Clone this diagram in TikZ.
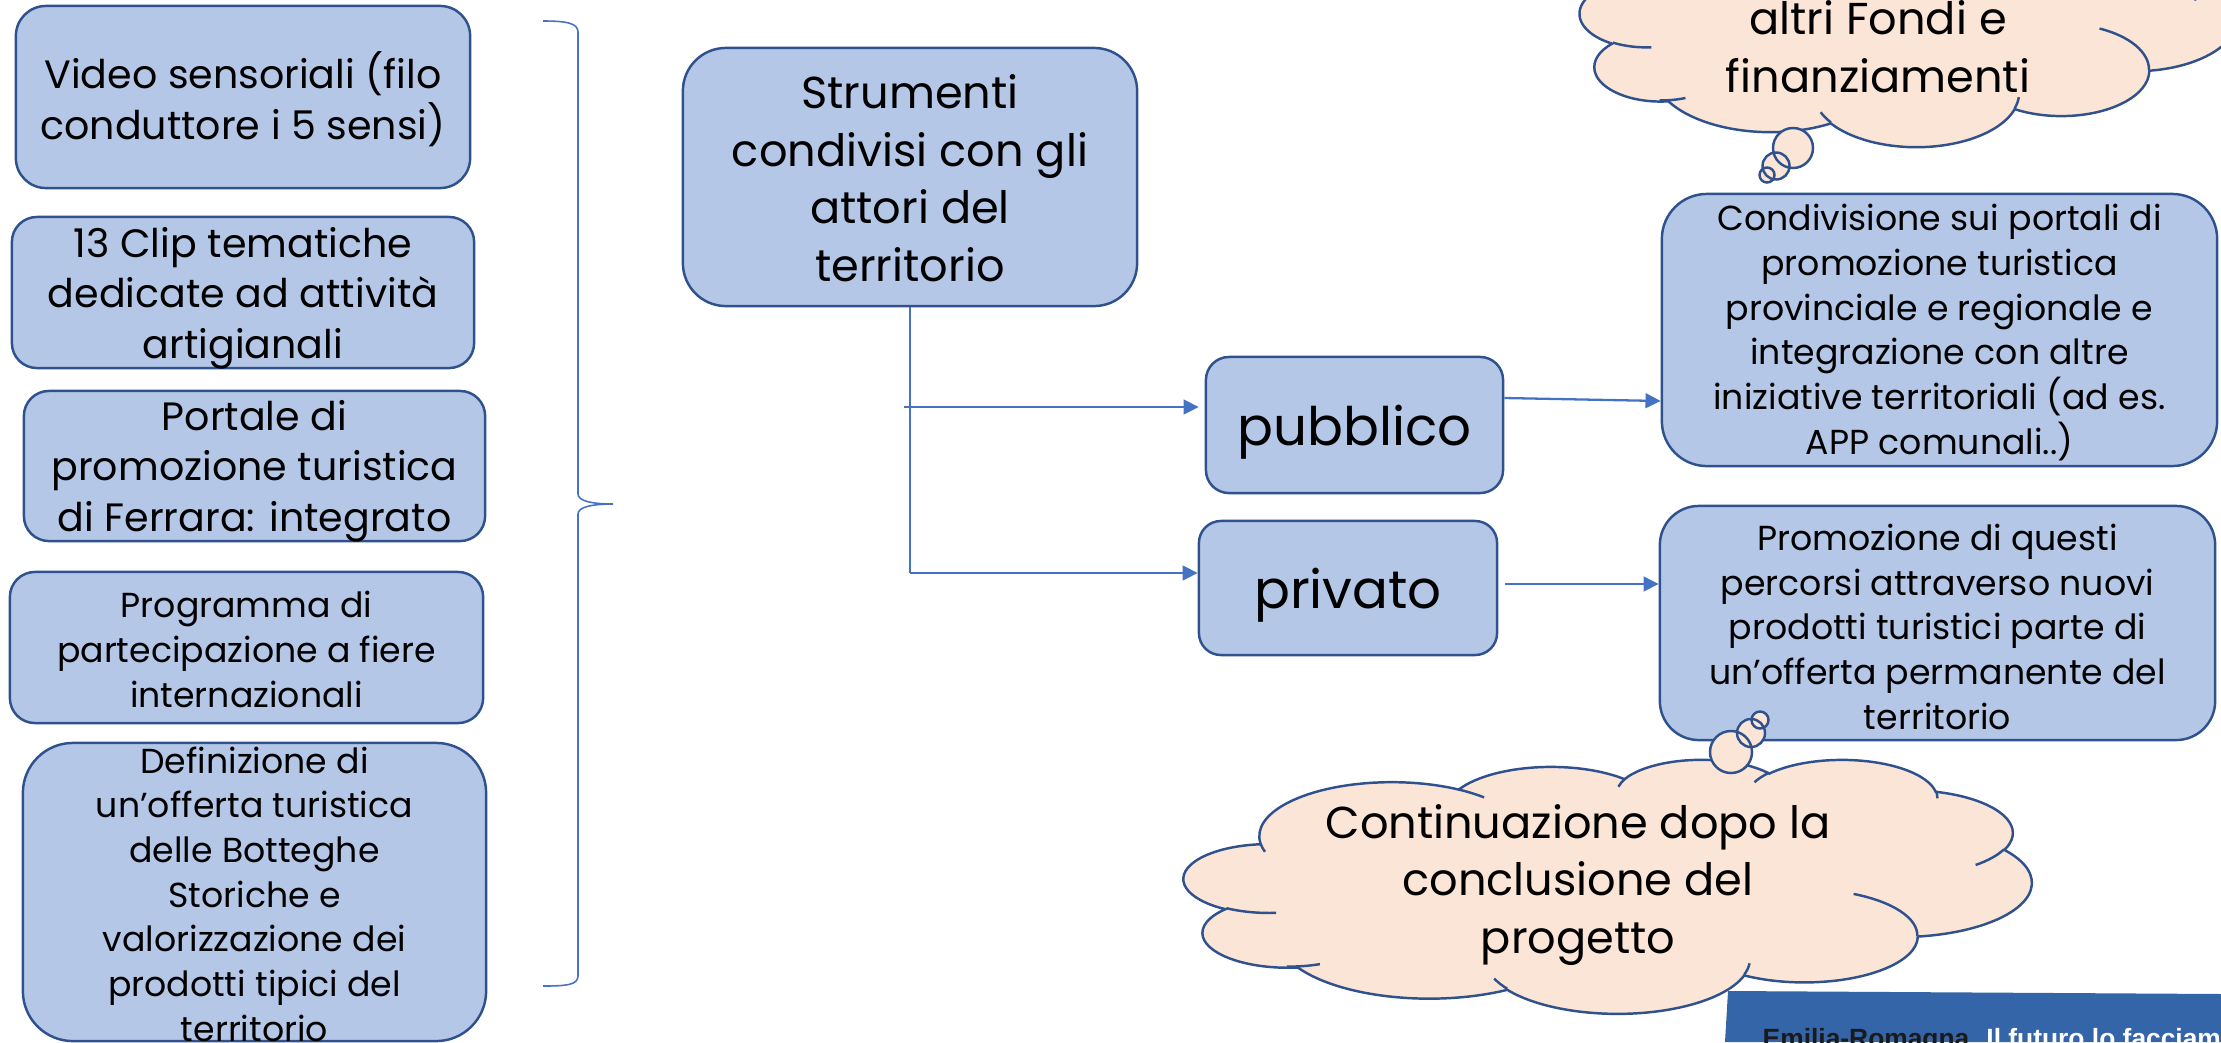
\documentclass[tikz,border=0pt]{standalone}
\usepackage{fontspec}
\setmainfont{Poppins}
\newfontfamily\bannerfont{Liberation Sans}
\usetikzlibrary{arrows.meta,calc}
\definecolor{boxfill}{HTML}{B4C7E7}
\definecolor{boxline}{HTML}{2F528F}
\definecolor{arrowc}{HTML}{4472C4}
\definecolor{cloudfill}{HTML}{FBE5D6}
\definecolor{bannerc}{HTML}{3465A8}
\definecolor{bannertxt}{HTML}{1A1A1A}
\tikzset{
  box/.style={draw=boxline, fill=boxfill, line width=0.7pt, inner sep=0pt},
  txt/.style={align=center, inner sep=0pt, anchor=base, text=black},
  fA/.style={font=\fontsize{11.25}{14.3}\selectfont},
  fB/.style={font=\fontsize{9.87}{12.7}\selectfont},
  fC/.style={font=\fontsize{12.7}{16.35}\selectfont},
  fP/.style={font=\fontsize{15.1}{18}\selectfont},
  conn/.style={draw=arrowc, line width=0.65pt, -{Triangle[length=4.3pt,width=4.2pt]}},
  vline/.style={draw=arrowc, line width=0.4pt},
  bracec/.style={draw=arrowc, line width=0.45pt},
  cloudshape/.style={draw=boxline, fill=cloudfill, line width=0.7pt},
  cloudinner/.style={draw=boxline, line width=0.7pt},
}
\newcommand{\ppcloud}[4]{%
\begin{scope}[shift={(#1,#2)}, x={(#3,0)}, y={(0,-#4)}]
\path[cloudshape] (39.00,143.70)
  arc[x radius=67.53, y radius=91.90, start angle=172.25, delta angle=128.12]
  arc[x radius=53.33, y radius=72.67, start angle=-152.02, delta angle=106.57]
  arc[x radius=43.65, y radius=59.45, start angle=-153.48, delta angle=116.16]
  arc[x radius=48.57, y radius=65.95, start angle=-139.71, delta angle=129.50]
  arc[x radius=53.33, y radius=72.73, start angle=-74.77, delta angle=97.99]
  arc[x radius=67.75, y radius=92.20, start angle=-37.53, delta angle=119.39]
  arc[x radius=57.85, y radius=78.67, start angle=0.46, delta angle=121.53]
  arc[x radius=67.52, y radius=92.15, start angle=16.85, delta angle=129.39]
  arc[x radius=77.20, y radius=105.43, start angle=58.99, delta angle=91.20]
  arc[x radius=43.60, y radius=59.18, start angle=83.31, delta angle=139.79]
  arc[x radius=43.45, y radius=59.45, start angle=120.36, delta angle=143.75]
  -- cycle;
\end{scope}}
\newcommand{\ppcloudinner}[4]{%
\begin{scope}[shift={(#1,#2)}, x={(#3,0)}, y={(0,-#4)}]
\path[cloudinner]
  (46.93,261.77) arc[x radius=43.45, y radius=59.45, start angle=85.55, delta angle=34.81]
  (69.28,348.99) arc[x radius=43.60, y radius=59.18, start angle=68.24, delta angle=22.87]
  (164.78,390.90) arc[x radius=67.52, y radius=92.15, start angle=146.24, delta angle=12.23]
  (288.27,347.51) arc[x radius=67.52, y radius=92.15, start angle=4.74, delta angle=12.11]
  (341.29,229.54) arc[x radius=57.85, y radius=78.67, start angle=-64.03, delta angle=64.49]
  (417.98,153.54) arc[x radius=53.33, y radius=72.73, start angle=23.22, delta angle=26.42]
  (383.24,54.26) arc[x radius=48.57, y radius=65.95, start angle=-10.21, delta angle=11.03]
  (290.78,39.52) arc[x radius=48.57, y radius=65.95, start angle=-156.29, delta angle=16.57]
  (221.41,47.20) arc[x radius=43.65, y radius=59.45, start angle=-167.73, delta angle=14.25]
  (140.00,51.92) arc[x radius=67.53, y radius=91.90, start angle=-59.64, delta angle=13.87]
  (41.27,157.89) arc[x radius=67.53, y radius=91.90, start angle=163.20, delta angle=9.05];
\end{scope}}
\begin{document}
\begin{tikzpicture}[x=0.01cm,y=-0.01cm]
\useasboundingbox (0,0) rectangle (2221,1042);
% brace
\draw[bracec] (543,21) .. controls (566,21) and (578,23) .. (578,32) -- (578,494)
  .. controls (578,501) and (592,504) .. (613,504)
  .. controls (592,504) and (578,507) .. (578,514) -- (578,976)
  .. controls (578,985) and (566,986) .. (543,986);
% left boxes
\node[box, minimum width=4.54cm, minimum height=1.82cm, rounded corners=0.30cm] (b1) at (243,97) {};
\node[box, minimum width=4.62cm, minimum height=1.51cm, rounded corners=0.25cm] (b2) at (243,292.5) {};
\node[box, minimum width=4.61cm, minimum height=1.50cm, rounded corners=0.25cm] (b3) at (254.5,466) {};
\node[box, minimum width=4.73cm, minimum height=1.51cm, rounded corners=0.25cm] (b4) at (246.5,647.5) {};
\node[box, minimum width=4.63cm, minimum height=2.98cm, rounded corners=0.50cm] (b5) at (254.5,892) {};
\node[txt,fA] (t1) at (243,139) {Video sensoriali (filo\\conduttore i 5 sensi)};
\node[txt,fA] (t2) at (243,358) {13 Clip tematiche\\dedicate ad attività\\artigianali};
\node[txt,fA] (t3) at (254.5,531) {Portale di\\promozione turistica\\di Ferrara: integrato};
\node[txt,fB] (t4) at (246.5,707) {Programma di\\partecipazione a fiere\\internazionali};
\node[txt,fB] (t5) at (254.5,1041) {Definizione di\\un’offerta turistica\\delle Botteghe\\Storiche e\\valorizzazione dei\\prodotti tipici del\\territorio};
% centre box
\node[box, minimum width=4.54cm, minimum height=2.58cm, rounded corners=0.43cm] (cb) at (910,177) {};
\node[txt,fC] (tc) at (910,281) {Strumenti\\condivisi con gli\\attori del\\territorio};
% pubblico / privato
\node[box, minimum width=2.97cm, minimum height=1.36cm, rounded corners=0.23cm] (pub) at (1354.5,425) {};
\node[box, minimum width=2.98cm, minimum height=1.34cm, rounded corners=0.22cm] (priv) at (1348,588) {};
\node[txt,fP] (tpub) at (1354.5,445) {pubblico};
\node[txt,fP] (tpriv) at (1348,608) {privato};
% right boxes
\node[box, minimum width=5.55cm, minimum height=2.72cm, rounded corners=0.45cm] (r1) at (1939.5,330) {};
\node[box, minimum width=5.55cm, minimum height=2.34cm, rounded corners=0.39cm] (r2) at (1937.5,623) {};
\node[txt,fB] (tr1) at (1939.5,454) {Condivisione sui portali di\\promozione turistica\\provinciale e regionale e\\integrazione con altre\\iniziative territoriali (ad es.\\APP comunali..)};
\node[txt,fB] (tr2) at (1937.5,729) {Promozione di questi\\percorsi attraverso nuovi\\prodotti turistici parte di\\un’offerta permanente del\\territorio};
% connectors
\coordinate (j2) at (910,573);
\coordinate (a1s) at (904,407);
\draw[vline] (cb.south) -- (j2);
\draw[conn] (a1s) -- ($(pub.west)+(-6,-18)$);
\draw[conn] (j2) -- (j2 -| priv.west);
\draw[conn] ($(pub.east)+(0,-27)$) -- ($(r1.west)+(0,71)$);
\draw[conn] ($(priv.east)+(7,-4)$) -- ($(r2.west)+(0,-39)$);
% top cloud
\ppcloud{1580}{-105}{0.015208cm}{0.0058102cm}
\path[cloudshape] (1793,148) circle[radius=0.20cm] (1776,166) circle[radius=0.135cm] (1767,175) circle[radius=0.075cm];
\ppcloudinner{1580}{-105}{0.015208cm}{0.0058102cm}
\node[txt,fC] (ct1) at (1878,92) {altri Fondi e\\finanziamenti};
% bottom cloud
\ppcloud{1184}{759}{0.0196065cm}{0.0058796cm}
\path[cloudshape] (1731,752) circle[radius=0.21cm] (1751,733) circle[radius=0.14cm] (1760,720) circle[radius=0.085cm];
\ppcloudinner{1184}{759}{0.0196065cm}{0.0058796cm}
\node[txt,fC] (ct2) at (1578,953) {Continuazione dopo la\\conclusione del\\progetto};
% banner
\fill[bannerc] (1728,991) -- (2221,994) -- (2221,1042) -- (1725,1042) -- cycle;
\node[anchor=base west, inner sep=0pt, text=bannertxt, font=\bannerfont\bfseries\fontsize{7.5}{9}\selectfont] (bt) at (1762,1047) {Emilia-Romagna. \textcolor{white}{Il futuro lo facciam}};
\end{tikzpicture}
\end{document}
